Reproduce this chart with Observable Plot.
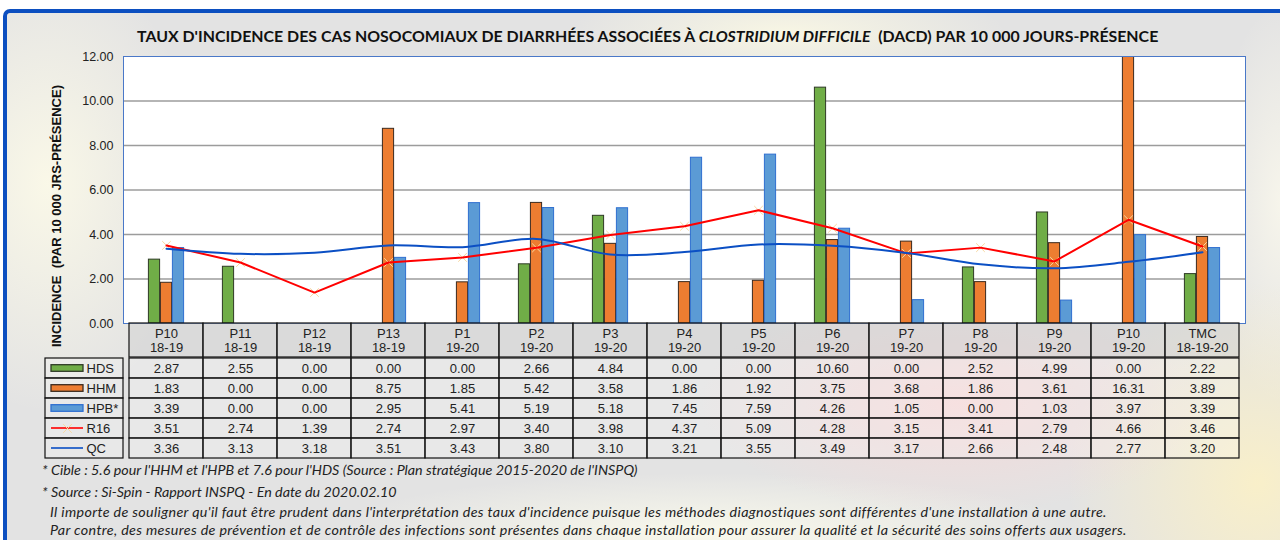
<!DOCTYPE html>
<html><head><meta charset="utf-8">
<script src="https://cdn.jsdelivr.net/npm/d3@7"></script>
<script src="https://cdn.jsdelivr.net/npm/@observablehq/plot@0.6"></script>
<style>
html,body{margin:0;padding:0;width:1280px;height:540px;overflow:hidden;background:#fff;}
#bg{position:absolute;left:3px;top:9px;width:1300px;height:560px;border-left:4px solid #0c4fc0;border-top:4px solid #0c4fc0;border-top-left-radius:7px;
background:
 radial-gradient(ellipse 150px 230px at 40px 170px, rgba(251,249,232,0.95), rgba(251,249,232,0)),
 radial-gradient(ellipse 220px 50px at 780px 20px, rgba(250,248,228,0.9), rgba(250,248,228,0)),
 radial-gradient(ellipse 260px 110px at 950px 390px, rgba(250,214,214,0.75), rgba(250,214,214,0)),
 radial-gradient(ellipse 190px 200px at 1250px 470px, rgba(250,240,200,0.95), rgba(250,240,200,0)),
 radial-gradient(ellipse 380px 60px at 700px 520px, rgba(250,250,236,0.95), rgba(250,250,236,0)),
 radial-gradient(ellipse 70px 200px at 1275px 190px, rgba(249,247,236,0.9), rgba(249,247,236,0)),
 #e3e3e3;}
#root{position:absolute;left:0;top:0;width:1280px;height:540px;}
#root svg{position:absolute;}
#title{position:absolute;left:137px;top:26px;line-height:19px;font-family:Lato,"Open Sans",sans-serif;font-weight:bold;font-size:15.9px;color:#111;white-space:nowrap;}
.note{position:absolute;font-family:Lato,"Open Sans",sans-serif;font-style:italic;font-size:14.3px;line-height:16px;color:#222;white-space:nowrap;}
.wide{letter-spacing:0.34px;}
</style></head>
<body>
<div id="bg"></div>
<div id="root">
<div id="title">TAUX D'INCIDENCE DES CAS NOSOCOMIAUX DE DIARRHÉES ASSOCIÉES À <i>CLOSTRIDIUM DIFFICILE</i>&nbsp; (DACD) PAR 10 000 JOURS-PRÉSENCE</div>
<div class="note" style="left:42px;top:462px">* Cible : 5.6 pour l'HHM et l'HPB et 7.6 pour l'HDS (Source : Plan stratégique 2015-2020 de l'INSPQ)</div>
<div class="note" style="left:42px;top:484px">* Source : Si-Spin - Rapport INSPQ - En date du 2020.02.10</div>
<div class="note wide" style="left:50px;top:504px">Il importe de souligner qu'il faut être prudent dans l'interprétation des taux d'incidence puisque les méthodes diagnostiques sont différentes d'une installation à une autre.</div>
<div class="note wide" style="left:50px;top:522px">Par contre, des mesures de prévention et de contrôle des infections sont présentes dans chaque installation pour assurer la qualité et la sécurité des soins offerts aux usagers.</div>
</div>
<script>
const periods = ["P10","P11","P12","P13","P1","P2","P3","P4","P5","P6","P7","P8","P9","P10","TMC"];
const years = ["18-19","18-19","18-19","18-19","19-20","19-20","19-20","19-20","19-20","19-20","19-20","19-20","19-20","19-20","18-19-20"];
const HDS = [2.87,2.55,0.00,0.00,0.00,2.66,4.84,0.00,0.00,10.60,0.00,2.52,4.99,0.00,2.22];
const HHM = [1.83,0.00,0.00,8.75,1.85,5.42,3.58,1.86,1.92,3.75,3.68,1.86,3.61,16.31,3.89];
const HPB = [3.39,0.00,0.00,2.95,5.41,5.19,5.18,7.45,7.59,4.26,1.05,0.00,1.03,3.97,3.39];
const R16 = [3.51,2.74,1.39,2.74,2.97,3.40,3.98,4.37,5.09,4.28,3.15,3.41,2.79,4.66,3.46];
const QC  = [3.36,3.13,3.18,3.51,3.43,3.80,3.10,3.21,3.55,3.49,3.17,2.66,2.48,2.77,3.20];
const seriesNames = ["HDS","HHM","HPB*","R16","QC"];
const yTicks = [0,2,4,6,8,10,12];
const yLabel = "INCIDENCE  (PAR 10 000 JRS-PRÉSENCE)";

const cats = periods.map((p,i)=>p+"\n"+years[i]);
const rows = cats.map((c,i)=>({c, HDS:HDS[i], HHM:HHM[i], HPB:HPB[i], R16:R16[i], QC:QC[i]}));
const seriesVals = [HDS,HHM,HPB,R16,QC];
const table = seriesNames.flatMap((s,j)=>cats.map((c,i)=>({s,c,v:seriesVals[j][i]})));
const font = "'Liberation Sans', Arial, sans-serif";
const baseStyle = {background:"transparent", overflow:"visible", fontFamily:font, color:"#222"};
const xs = {type:"band", domain:cats, padding:0, axis:null};
const colors = {HDS:"#70ad47", HHM:"#ed7d31", "HPB*":"#5b9bd5", R16:"#ff0000", QC:"#0b4fc4"};
const strokes = {HDS:"#2e3a25", HHM:"#3b2a1e", "HPB*":"#2f6fd0"};
const ins = 31.4;

const root = document.getElementById("root");
function place(svg, left, top){ svg.style.left = left+"px"; svg.style.top = top+"px"; root.appendChild(svg); }

const A = Plot.plot({
  width:1280, height:325, marginTop:56, marginBottom:2, marginLeft:123, marginRight:35,
  style:baseStyle,
  x:xs,
  y:{domain:[0,12], axis:null},
  marks:[
    Plot.frame({fill:"white", stroke:null}),
    Plot.gridY([2,4,6,8,10], {stroke:"#9c9c9c", strokeOpacity:1, strokeWidth:1.3}),
    Plot.axisY(yTicks, {tickSize:0, tickPadding:10, tickFormat:d3.format(".2f"), fontSize:12.5, label:null}),
    Plot.barY(rows.filter(d=>d.HDS>0), {x:"c", y:"HDS", dx:-12, insetLeft:ins, insetRight:ins, fill:colors.HDS, stroke:strokes.HDS, strokeWidth:1, clip:true}),
    Plot.barY(rows.filter(d=>d.HHM>0), {x:"c", y:"HHM", dx:0, insetLeft:ins, insetRight:ins, fill:colors.HHM, stroke:strokes.HHM, strokeWidth:1, clip:true}),
    Plot.barY(rows.filter(d=>d.HPB>0), {x:"c", y:"HPB", dx:12, insetLeft:ins, insetRight:ins, fill:colors["HPB*"], stroke:strokes["HPB*"], strokeWidth:1, clip:true}),
    Plot.dot(rows, {x:"c", y:"R16", symbol:"times", r:4, stroke:"#f7d9a2", strokeWidth:1}),
    Plot.line(rows, {x:"c", y:"R16", stroke:colors.R16, strokeWidth:2}),
    Plot.line(rows, {x:"c", y:"QC", stroke:colors.QC, strokeWidth:2, curve:"catmull-rom"}),
    Plot.frame({stroke:"#4a78c8", strokeWidth:1}),
    Plot.text([yLabel], {frameAnchor:"left", textAnchor:"middle", dx:-67, dy:26, rotate:-90, fontWeight:"bold", fontSize:13, fill:"#111"})
  ]
});
place(A, 0, 0);

const B = Plot.plot({
  width:1126, height:38, margin:2, style:baseStyle, x:xs,
  y:{type:"band", domain:["h"], padding:0, axis:null},
  marks:[
    Plot.cell(cats, {x:d=>d, y:()=>"h", fill:"#cfcfcf", fillOpacity:0.45, stroke:"#111", strokeWidth:1.2}),
    Plot.text(cats, {x:d=>d, y:()=>"h", text:d=>d, fontSize:13, lineHeight:1.1, fill:"#222"})
  ]
});
place(B, 121, 321);

const C = Plot.plot({
  width:1126, height:106, margin:2, style:baseStyle, x:xs,
  y:{type:"band", domain:seriesNames, padding:0, axis:null},
  marks:[
    Plot.cell(table, {x:"c", y:"s", fill:"white", fillOpacity:0.2, stroke:"#111", strokeWidth:1.2}),
    Plot.text(table, {x:"c", y:"s", text:d=>d.v.toFixed(2), fontSize:13, fill:"#222"})
  ]
});
place(C, 121, 355);

const D = Plot.plot({
  width:82, height:106, margin:2, style:baseStyle,
  x:{type:"band", domain:["k"], padding:0, axis:null},
  y:{type:"band", domain:seriesNames, padding:0, axis:null},
  marks:[
    Plot.cell(seriesNames, {x:()=>"k", y:d=>d, fill:"white", fillOpacity:0.2, stroke:"#111", strokeWidth:1.2}),
    Plot.cell(seriesNames.slice(0,3), {x:()=>"k", y:d=>d, insetLeft:6, insetRight:40, insetTop:6.7, insetBottom:6.7, fill:d=>colors[d], stroke:d=>strokes[d], strokeWidth:1.3}),
    Plot.cell(seriesNames.slice(3), {x:()=>"k", y:d=>d, insetLeft:6, insetRight:40, insetTop:9.2, insetBottom:9.2, fill:d=>colors[d]}),
    Plot.dot(["R16"], {x:()=>"k", y:d=>d, dx:-17, symbol:"times", r:4, stroke:"#f7d9a2", strokeWidth:1}),
    Plot.text(seriesNames, {x:()=>"k", y:d=>d, text:d=>d, textAnchor:"start", dx:2, fontSize:13, fill:"#222"})
  ]
});
place(D, 43, 355);
</script>
</body></html>
